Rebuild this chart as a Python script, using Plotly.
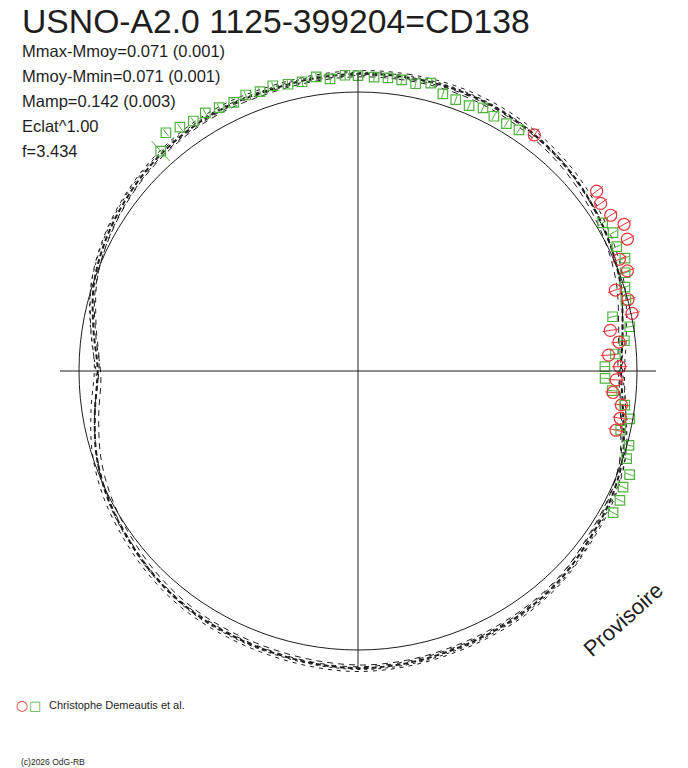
import numpy as np
import plotly.graph_objects as go

# ---------------- data ----------------
TITLE = "USNO-A2.0 1125-399204=CD138"
INFO_LINES = ["Mmax-Mmoy=0.071 (0.001)", "Mmoy-Mmin=0.071 (0.001)",
              "Mamp=0.142 (0.003)", "Eclat^1.00", "f=3.434"]
OBSERVER = "Christophe Demeautis et al."
COPYRIGHT = "(c)2026 OdG-RB"
STAMP = "Provisoire"

# green squares: phase (clockwise from top) and brightness offset (mag, relative to mean)
green_phase = [0.8836, 0.8920, 0.8996, 0.9073, 0.9150, 0.9228, 0.9310, 0.9385, 0.9463, 0.9538,
               0.9619, 0.9696, 0.9776, 0.9848, 0.9930, 0.0000, 0.0087, 0.0162, 0.0237, 0.0315,
               0.0394, 0.0473, 0.0550, 0.0631, 0.0706, 0.0780, 0.0860, 0.0937, 0.1634, 0.1709,
               0.1787, 0.1863, 0.1939, 0.2015, 0.2090, 0.2166, 0.2243, 0.2320, 0.2395, 0.2472,
               0.2547, 0.2623, 0.2702, 0.2777, 0.2852, 0.2926, 0.3002, 0.3080, 0.3157, 0.3230,
               0.3307]
green_dmag = [0.059, 0.097, 0.082, 0.073, 0.075, 0.067, 0.061, 0.068, 0.061, 0.067,
              0.058, 0.056, 0.065, 0.052, 0.061, 0.059, 0.055, 0.056, 0.055, 0.050,
              0.064, 0.039, 0.034, 0.031, 0.044, 0.035, 0.034, 0.039, 0.025, 0.040,
              0.029, 0.039, 0.020, 0.003, -0.007, -0.067, -0.013, -0.039, -0.076, -0.115,
              -0.114, -0.086, -0.036, -0.011, -0.035, 0.007, 0.013, 0.042, 0.037, 0.047,
              0.046]
green_err = [0.048] + [0.016] * 50

# red circles
red_phase = [0.1021, 0.1472, 0.1538, 0.1621, 0.1698, 0.1775, 0.1857, 0.1934, 0.2015, 0.2088,
             0.2170, 0.2246, 0.2324, 0.2399, 0.2474, 0.2555, 0.2634, 0.2704, 0.2784, 0.2859]
red_dmag = [0.056, 0.071, 0.057, 0.064, 0.089, 0.075, 0.019, 0.030, -0.033, 0.001,
            0.004, -0.084, -0.059, -0.100, -0.062, -0.074, -0.083, -0.048, -0.045, -0.051]
red_err = [0.028] * 20

# fitted light curve (phase, brightness offset)
model_phase = [0.000, 0.025, 0.050, 0.075, 0.100, 0.125, 0.150, 0.175, 0.200, 0.225,
               0.250, 0.275, 0.300, 0.325, 0.350, 0.375, 0.400, 0.425, 0.450, 0.475,
               0.500, 0.525, 0.550, 0.575, 0.600, 0.625, 0.650, 0.675, 0.700, 0.725,
               0.750, 0.775, 0.800, 0.825, 0.850, 0.875, 0.900, 0.925, 0.950, 0.975, 1.000]
model_dmag = [0.065, 0.067, 0.068, 0.065, 0.057, 0.046, 0.030, 0.012, -0.010, -0.040,
              -0.057, -0.038, -0.002, 0.016, 0.025, 0.040, 0.048, 0.052, 0.056, 0.062,
              0.065, 0.060, 0.054, 0.050, 0.046, 0.035, 0.020, 0.006, -0.015, -0.045,
              -0.067, -0.040, -0.004, 0.018, 0.034, 0.047, 0.055, 0.058, 0.056, 0.060, 0.065]
# uncertainty envelope curves: additive offset (mag) and phase shift
envelope_dmag = [0.0, 0.012, -0.011, 0.005, -0.005]
envelope_shift = [0.0, 0.002, -0.003, -0.004, 0.004]

AXIS_EXTENT = 1.068  # radial extent of the cross-hair axes (mean radius = 1)

# ---------------- geometry helpers ----------------
W, H = 688, 768
CX, CY, RPX = 358, 371, 279  # centre and mean-circle radius in pixels


def to_xy(phase, dmag):
    ph = np.asarray(phase, float)
    r = 1.0 + np.asarray(dmag, float)
    a = 2 * np.pi * ph
    return r * np.sin(a), r * np.cos(a)


INK = "#1e1e1e"
GREEN = "#4fb43c"
RED = "#e8353a"
FONT = "Liberation Sans, Arial, sans-serif"

fig = go.Figure()

# cross-hair axes
fig.add_shape(type="line", x0=-AXIS_EXTENT, x1=AXIS_EXTENT, y0=0, y1=0,
              line=dict(color=INK, width=1))
fig.add_shape(type="line", x0=0, x1=0, y0=-AXIS_EXTENT, y1=AXIS_EXTENT,
              line=dict(color=INK, width=1))
# mean-magnitude circle
fig.add_shape(type="circle", x0=-1, x1=1, y0=-1, y1=1, line=dict(color=INK, width=1))

# fitted curves
dashes = ["5px,3px", "4px,5px", "6px,5px", "3px,4px", "5px,6px"]
widths = [2.0, 1, 1, 1, 1]
for k, (off, sh) in enumerate(zip(envelope_dmag, envelope_shift)):
    px_, py_ = to_xy(np.array(model_phase) + sh, np.array(model_dmag) + off)
    fig.add_trace(go.Scatter(x=px_, y=py_, mode="lines",
                             line=dict(color=INK, width=widths[k], dash=dashes[k],
                                       shape="spline", smoothing=1.0),
                             hoverinfo="skip", showlegend=False))


def err_segments(phase, dmag, err):
    xs, ys = [], []
    for p, d, e in zip(phase, dmag, err):
        x0, y0 = to_xy([p, p], [d - e, d + e])
        xs += [x0[0], x0[1], None]
        ys += [y0[0], y0[1], None]
    return xs, ys


# error bars
ex, ey = err_segments(green_phase, green_dmag, green_err)
fig.add_trace(go.Scatter(x=ex, y=ey, mode="lines", line=dict(color=GREEN, width=1),
                         hoverinfo="skip", showlegend=False))
ex, ey = err_segments(red_phase, red_dmag, red_err)
fig.add_trace(go.Scatter(x=ex, y=ey, mode="lines", line=dict(color=RED, width=1),
                         hoverinfo="skip", showlegend=False))

# markers
gx, gy = to_xy(green_phase, green_dmag)
fig.add_trace(go.Scatter(x=gx, y=gy, mode="markers",
                         marker=dict(symbol="square-open", size=9.5, color=GREEN,
                                     line=dict(width=1.2, color=GREEN)),
                         showlegend=False))
rx, ry = to_xy(red_phase, red_dmag)
fig.add_trace(go.Scatter(x=rx, y=ry, mode="markers",
                         marker=dict(symbol="circle-open", size=12, color=RED,
                                     line=dict(width=1.2, color=RED)),
                         showlegend=False))


def px2paper(x, y):
    return x / W, 1 - y / H


ann = []
tx, ty = px2paper(20, 21)
ann.append(dict(text=TITLE, x=tx, y=ty, xanchor="left", yanchor="middle",
                font=dict(size=33.7, color=INK, family=FONT)))
for i, line in enumerate(INFO_LINES):
    tx, ty = px2paper(20, 51 + 25 * i)
    ann.append(dict(text=line, x=tx, y=ty, xanchor="left", yanchor="middle",
                    font=dict(size=16.5, color=INK, family=FONT)))
tx, ty = px2paper(623, 619)
ann.append(dict(text=STAMP, x=tx, y=ty, xanchor="center", yanchor="middle", textangle=-42,
                font=dict(size=22, color=INK, family=FONT)))
tx, ty = px2paper(22, 705)
ann.append(dict(text="○", x=tx, y=ty, xanchor="center", yanchor="middle",
                font=dict(size=14, color=RED, family="DejaVu Sans")))
tx, ty = px2paper(35, 705)
ann.append(dict(text="□", x=tx, y=ty, xanchor="center", yanchor="middle",
                font=dict(size=13, color=GREEN, family="DejaVu Sans")))
tx, ty = px2paper(47, 705)
ann.append(dict(text=OBSERVER, x=tx, y=ty, xanchor="left", yanchor="middle",
                font=dict(size=11, color=INK, family=FONT)))
tx, ty = px2paper(19, 762)
ann.append(dict(text=COPYRIGHT, x=tx, y=ty, xanchor="left", yanchor="middle",
                font=dict(size=8.5, color=INK, family=FONT)))
for a in ann:
    a.update(xref="paper", yref="paper", showarrow=False)

fig.update_layout(
    width=W, height=H, margin=dict(l=0, r=0, t=0, b=0),
    paper_bgcolor="white", plot_bgcolor="white",
    annotations=ann,
    xaxis=dict(range=[-CX / RPX, (W - CX) / RPX], visible=False, fixedrange=True),
    yaxis=dict(range=[-(H - CY) / RPX, CY / RPX], visible=False, fixedrange=True),
)
fig.write_html("out.html", config={"displayModeBar": False},
               post_script="document.body.style.margin='0';document.body.style.overflow='hidden';")
